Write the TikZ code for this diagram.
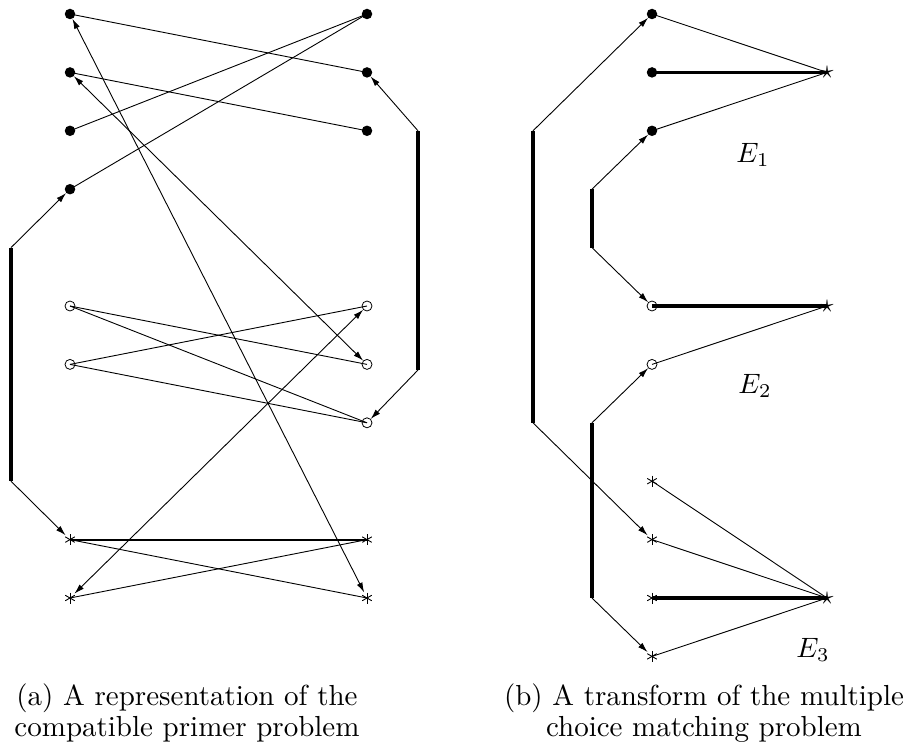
\documentclass[tikz,border=0pt]{standalone}
\usetikzlibrary{arrows.meta}
\tikzset{
  ln/.style={line width=0.9pt},
  thk/.style={line width=3.1pt},
  arr/.style={line width=0.9pt,-{Latex[length=10pt,width=6pt]}},
  darr/.style={line width=0.9pt,{Latex[length=10pt,width=6pt]}-{Latex[length=10pt,width=6pt]}},
  fdot/.style={circle,fill=black,inner sep=0pt,minimum size=10.5pt},
  odot/.style={circle,draw,line width=0.8pt,inner sep=0pt,minimum size=10pt},
  ast/.style={circle,inner sep=0pt,minimum size=12pt,
    path picture={\foreach \a in {90,30,150}{\draw[line width=0.9pt]
      ([shift={(\a:5.5pt)}]path picture bounding box.center) --
      ([shift={(\a+180:5.5pt)}]path picture bounding box.center);}}},
  bstar/.style={inner sep=0pt},
  lab/.style={inner sep=0pt},
}
\begin{document}
\begin{tikzpicture}[x=1pt,y=-1pt]
\useasboundingbox (0,0) rectangle (905,749);
% ---------- panel (a) ----------
\node[fdot] (L1) at (70,14) {};
\node[fdot] (L2) at (70,72.4) {};
\node[fdot] (L3) at (70,130.8) {};
\node[fdot] (L4) at (70,189.2) {};
\node[fdot] (R1) at (367,14) {};
\node[fdot] (R2) at (367,72.4) {};
\node[fdot] (R3) at (367,130.8) {};
\node[odot] (Lo1) at (70,306) {};
\node[odot] (Lo2) at (70,364.4) {};
\node[odot] (Ro1) at (367,306) {};
\node[odot] (Ro2) at (367,364.4) {};
\node[odot] (Ro3) at (367,422.8) {};
\node[ast] (Ls1) at (70,539.6) {};
\node[ast] (Ls2) at (70,598) {};
\node[ast] (Rs1) at (367,539.6) {};
\node[ast] (Rs2) at (367,598) {};
\coordinate (la) at (11,247.6);
\coordinate (lb) at (11,481.2);
\coordinate (ra) at (418,130.8);
\coordinate (rb) at (418,370);

\draw[ln] (L1.center) -- (R2.center);
\draw[ln] (L2.center) -- (R3.center);
\draw[ln] (L3.center) -- (R1.center);
\draw[ln] (L4.center) -- (R1.center);
\draw[darr] (L1) -- (Rs2);
\draw[darr] (L2) -- (Ro2);
\draw[darr] (Ls2) -- (Ro1);
\draw[thk] (la) -- (lb);
\draw[thk] (ra) -- (rb);
\draw[arr] (la) -- (L4);
\draw[arr] (lb) -- (Ls1);
\draw[arr] (ra) -- (R2);
\draw[arr] (rb) -- (Ro3);
\draw[ln] (Lo1.center) -- (Ro2.center);
\draw[ln] (Lo1.center) -- (Ro3.center);
\draw[ln] (Lo2.center) -- (Ro1.center);
\draw[ln] (Lo2.center) -- (Ro3.center);
\draw[line width=2.2pt] (Ls1.center) -- (Rs1.center);
\draw[ln] (Ls1.center) -- (Rs2.center);
\draw[ln] (Ls2.center) -- (Rs1.center);

% ---------- panel (b) ----------
\node[fdot] (F1) at (652,14) {};
\node[fdot] (F2) at (652,72.4) {};
\node[fdot] (F3) at (652,130.8) {};
\node[odot] (O1) at (652,306) {};
\node[odot] (O2) at (652,364.4) {};
\node[ast] (s1) at (652,481.2) {};
\node[ast] (s2) at (652,539.6) {};
\node[ast] (s3) at (652,598) {};
\node[ast] (s4) at (652,656.4) {};
\node[bstar] (S1) at (827,72.4) {\scalebox{2.6}{$\star$}};
\node[bstar] (S2) at (827,306) {\scalebox{2.6}{$\star$}};
\node[bstar] (S3) at (827,598) {\scalebox{2.6}{$\star$}};
\coordinate (oa) at (533,130.8);
\coordinate (ob) at (533,422.8);
\coordinate (ia) at (592,189.2);
\coordinate (ib) at (592,247.6);
\coordinate (ic) at (592,422.8);
\coordinate (id) at (592,598);

\draw[ln] (F1.center) -- (S1.center);
\draw[thk] (F2.center) -- (S1.center);
\draw[ln] (F3.center) -- (S1.center);
\draw[thk] (O1.center) -- (S2.center);
\draw[ln] (O2.center) -- (S2.center);
\draw[ln] (s1.center) -- (S3.center);
\draw[ln] (s2.center) -- (S3.center);
\draw[thk] (s3.center) -- (S3.center);
\draw[ln] (s4.center) -- (S3.center);
\draw[thk] (oa) -- (ob);
\draw[thk] (ia) -- (ib);
\draw[thk] (ic) -- (id);
\draw[arr] (oa) -- (F1);
\draw[arr] (ob) -- (s2);
\draw[arr] (ia) -- (F3);
\draw[arr] (ib) -- (O1);
\draw[arr] (ic) -- (O2);
\draw[arr] (id) -- (s4);

\node[lab] (E1) at (753,155) {\scalebox{2.8}{$E_1$}};
\node[lab] (E2) at (755,386) {\scalebox{2.8}{$E_2$}};
\node[lab] (E3) at (813,650) {\scalebox{2.8}{$E_3$}};

% ---------- captions ----------
\node[inner sep=0pt,anchor=base] (capa) at (187,705)
  {\scalebox{2.9}{\begin{tabular}[t]{@{}c@{}}(a) A representation of the\\[-1pt] compatible primer problem\end{tabular}}};
\node[inner sep=0pt,anchor=base] (capb) at (704,705)
  {\scalebox{2.9}{\begin{tabular}[t]{@{}c@{}}(b) A transform of the multiple\\[-1pt] choice matching problem\end{tabular}}};
\end{tikzpicture}
\end{document}
